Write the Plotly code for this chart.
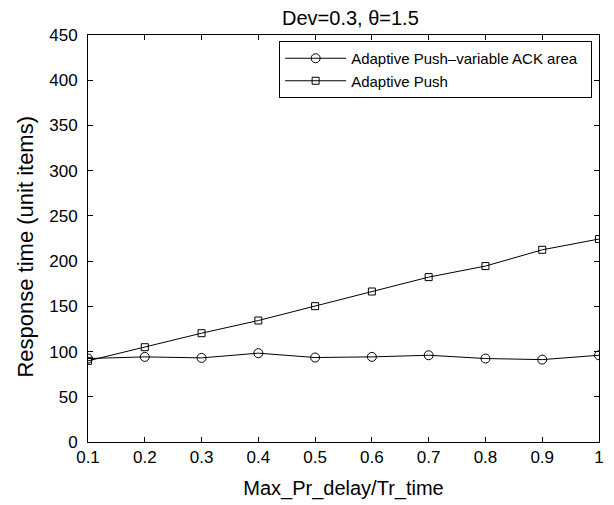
import plotly.graph_objects as go

x_vals = [0.1, 0.2, 0.3, 0.4, 0.5, 0.6, 0.7, 0.8, 0.9, 1.0]
ack_area = [92.3, 94.1, 93.0, 98.2, 93.4, 94.1, 95.9, 92.3, 91.1, 95.9]
adaptive_push = [89.7, 104.8, 120.3, 134.3, 150.2, 166.4, 182.3, 194.5, 212.5, 224.4]
x_ticks = [0.1, 0.2, 0.3, 0.4, 0.5, 0.6, 0.7, 0.8, 0.9, 1.0]
x_ticktext = ["0.1", "0.2", "0.3", "0.4", "0.5", "0.6", "0.7", "0.8", "0.9", "1"]
y_ticks = [0, 50, 100, 150, 200, 250, 300, 350, 400, 450]

font_family = "Liberation Sans, Arial, Helvetica, sans-serif"

fig = go.Figure()
fig.add_trace(go.Scatter(
    x=x_vals, y=ack_area, mode="lines+markers",
    name="Adaptive Push\u2013variable ACK area\u00a0\u00a0",
    line=dict(color="black", width=1),
    marker=dict(symbol="circle-open", size=9, color="black", line=dict(width=1)),
))
fig.add_trace(go.Scatter(
    x=x_vals, y=adaptive_push, mode="lines+markers",
    name="Adaptive Push",
    line=dict(color="black", width=1),
    marker=dict(symbol="square-open", size=7, color="black", line=dict(width=1)),
))

axis_common = dict(
    showgrid=False, zeroline=False, showline=True, mirror="ticks",
    linecolor="black", linewidth=1, ticks="inside", ticklen=5,
    tickcolor="black", tickfont=dict(size=17, color="black", family=font_family),
)

W, H = 606, 497
ML, MR, MT, MB = 80, 10, 27, 63
PW, PH = W - ML - MR, H - MT - MB

fig.update_layout(
    width=W, height=H,
    margin=dict(l=ML, r=MR, t=MT, b=MB),
    paper_bgcolor="white", plot_bgcolor="white",
    font=dict(family=font_family, color="black"),
    title=dict(text="Dev=0.3, \u03b8=1.5", x=(345 - ML) / PW, xanchor="center",
               xref="paper", yref="container", y=1 - 10 / H, yanchor="middle",
               font=dict(size=20, color="black", family=font_family)),
    xaxis=dict(range=[0.1, 1.0], tickvals=x_ticks, ticktext=x_ticktext,
               ticklabelstandoff=0,
               title=dict(text="Max_Pr_delay/Tr_time", standoff=14,
                          font=dict(size=20, color="black", family=font_family)),
               **axis_common),
    yaxis=dict(range=[0, 450], tickvals=y_ticks, ticklabelstandoff=6,
               **axis_common),
    legend=dict(x=(273 - ML) / PW, y=1 - 6 / PH, xanchor="left", yanchor="top",
                bordercolor="black", borderwidth=1, bgcolor="white",
                font=dict(size=15, color="black", family=font_family),
                itemwidth=61),
    showlegend=True,
    annotations=[dict(
        text="Response time (unit items)", textangle=-90,
        xref="paper", yref="paper",
        x=(16 - ML) / PW, y=(H - MB - 239) / PH,
        xanchor="center", yanchor="middle", showarrow=False,
        font=dict(size=22, color="black", family=font_family),
    )],
)

fig.write_html("out.html")
